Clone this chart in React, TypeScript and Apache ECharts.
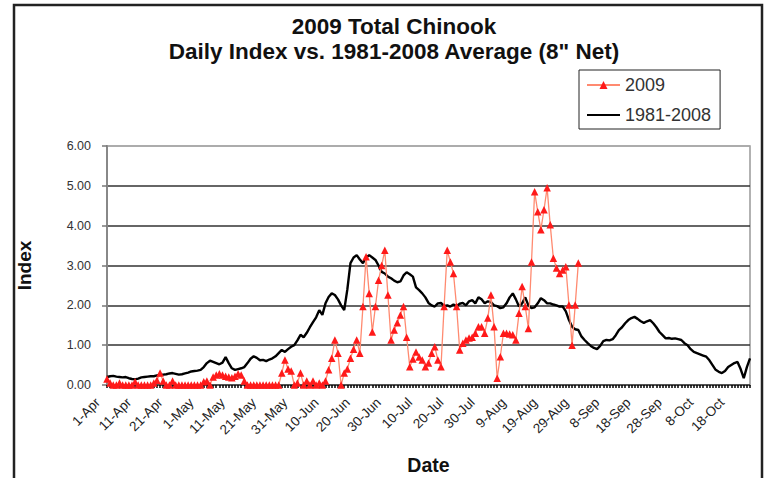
import React, { useEffect, useRef } from "react";
import * as echarts from "echarts";

const MONTHS = ["Apr", "May", "Jun", "Jul", "Aug", "Sep", "Oct"];
const MONTH_DAYS = [30, 31, 30, 31, 31, 30, 31];
const N_DAYS = 207;
const dates: string[] = [];
for (let m = 0; m < MONTHS.length && dates.length < N_DAYS; m++) {
  for (let d = 1; d <= MONTH_DAYS[m] && dates.length < N_DAYS; d++) {
    dates.push(`${d}-${MONTHS[m]}`);
  }
}

const yTicks = ["0.00", "1.00", "2.00", "3.00", "4.00", "5.00", "6.00"];

const avg1981_2008 = [
  0.20, 0.22, 0.23, 0.21, 0.20, 0.19, 0.20, 0.17, 0.15, 0.14,
  0.16, 0.19, 0.20, 0.21, 0.22, 0.22, 0.24, 0.25, 0.26, 0.27,
  0.29, 0.30, 0.28, 0.26, 0.27, 0.29, 0.31, 0.34, 0.35, 0.36,
  0.38, 0.45, 0.55, 0.61, 0.58, 0.55, 0.52, 0.56, 0.70, 0.55,
  0.42, 0.38, 0.40, 0.42, 0.45, 0.55, 0.66, 0.72, 0.68, 0.62,
  0.63, 0.60, 0.64, 0.67, 0.72, 0.80, 0.88, 0.83, 0.90, 0.96,
  1.00, 1.12, 1.26, 1.20, 1.31, 1.45, 1.58, 1.70, 1.88, 1.76,
  2.05, 2.21, 2.30, 2.26, 2.15, 2.00, 1.88, 2.40, 3.06, 3.20,
  3.26, 3.15, 3.06, 3.20, 3.26, 3.20, 3.14, 3.00, 2.84, 2.80,
  2.72, 2.68, 2.62, 2.58, 2.60, 2.75, 2.83, 2.78, 2.72, 2.45,
  2.38, 2.30, 2.20, 2.06, 2.00, 1.97, 2.05, 2.06, 1.98, 2.00,
  1.97, 2.02, 1.98, 2.04, 2.06, 2.00, 2.10, 2.13, 2.05, 2.20,
  2.15, 2.05, 2.10, 2.08, 2.00, 1.98, 1.93, 1.95, 2.05, 2.20,
  2.30, 2.15, 1.97, 2.05, 2.20, 2.00, 1.93, 1.95, 2.05, 2.18,
  2.13, 2.05, 2.05, 2.02, 2.00, 1.97, 1.97, 1.85, 1.63, 1.46,
  1.40, 1.38, 1.22, 1.13, 1.05, 0.98, 0.93, 0.90, 0.98, 1.10,
  1.13, 1.12, 1.15, 1.25, 1.38, 1.45, 1.55, 1.63, 1.68, 1.71,
  1.66, 1.60, 1.56, 1.60, 1.63, 1.55, 1.45, 1.33, 1.25, 1.17,
  1.18, 1.16, 1.17, 1.15, 1.13, 1.05, 1.00, 0.90, 0.83, 0.80,
  0.77, 0.74, 0.71, 0.62, 0.50, 0.38, 0.33, 0.30, 0.35, 0.45,
  0.50, 0.55, 0.58, 0.40, 0.17, 0.45, 0.67,
];

const idx2009 = [
  0.15, 0.05, 0, 0, 0.05, 0, 0, 0, 0, 0.08,
  0, 0, 0, 0, 0, 0.05, 0.12, 0.30, 0.10, 0,
  0, 0.10, 0, 0, 0, 0, 0, 0, 0, 0,
  0, 0.08, 0.10, 0, 0.20, 0.25, 0.28, 0.25, 0.22, 0.20,
  0.18, 0.22, 0.28, 0.25, 0.10, 0, 0, 0, 0, 0,
  0, 0, 0, 0, 0, 0, 0.30, 0.63, 0.40, 0.35,
  0, 0.05, 0.30, 0, 0.10, 0, 0.10, 0, 0.05, 0,
  0.10, 0.38, 0.67, 1.13, 0.80, 0, 0.30, 0.40, 0.67, 0.90,
  1.13, 0.80, 1.97, 3.22, 2.30, 1.33, 1.97, 2.63, 3.00, 3.38,
  2.26, 1.13, 1.38, 1.56, 1.76, 1.97, 1.20, 0.46, 0.65, 0.83,
  0.70, 0.63, 0.46, 0.55, 0.80, 0.96, 0.63, 0.46, 1.97, 3.38,
  3.09, 2.80, 1.97, 0.88, 1.05, 1.13, 1.18, 1.20, 1.30, 1.46,
  1.46, 1.30, 1.68, 2.26, 1.46, 0.17, 0.71, 1.30, 1.30, 1.28,
  1.26, 1.13, 1.80, 2.47, 1.97, 1.42, 3.09, 4.85, 4.35, 3.90,
  4.40, 4.95, 4.02, 3.18, 2.94, 2.80, 2.89, 2.97, 2.01, 1.00,
  2.01, 3.06,
];

const FONT = 'Arial, "Liberation Sans", sans-serif';

export default function App() {
  const ref = useRef<HTMLDivElement>(null);
  useEffect(() => {
    if (!ref.current) return;
    const chart = echarts.init(ref.current, null, { renderer: "svg" });
    chart.setOption({
      animation: false,
      backgroundColor: "#ffffff",
      graphic: [
        {
          type: "rect",
          shape: { x: 14, y: 5, width: 748, height: 520 },
          style: { fill: "none", stroke: "#222", lineWidth: 2.5 },
          z: 100,
        },
        {
          type: "text",
          x: 394,
          y: 26,
          style: {
            text: "2009 Total Chinook",
            fill: "#111",
            font: `bold 22.5px ${FONT}`,
            textAlign: "center",
            textVerticalAlign: "middle",
          },
        },
        {
          type: "text",
          x: 394,
          y: 51,
          style: {
            text: 'Daily Index vs. 1981-2008 Average (8" Net)',
            fill: "#111",
            font: `bold 22.5px ${FONT}`,
            textAlign: "center",
            textVerticalAlign: "middle",
          },
        },
      ],
      legend: {
        orient: "vertical",
        left: 579,
        top: 70,
        padding: [5, 9, 4, 7],
        backgroundColor: "#fff",
        borderColor: "#222",
        borderWidth: 1,
        itemWidth: 33,
        itemHeight: 10,
        itemGap: 10,
        textStyle: { fontSize: 18, color: "#333", fontFamily: FONT, lineHeight: 20 },
        data: [
          { name: "2009" },
          { name: "1981-2008", itemStyle: { color: "transparent", borderWidth: 0, opacity: 0 } },
        ],
      },
      grid: {
        left: 107,
        right: 17,
        top: 146,
        bottom: 93,
        show: true,
        borderColor: "#999",
        borderWidth: 1.5,
      },
      xAxis: {
        type: "category",
        data: dates,
        boundaryGap: false,
        name: "Date",
        nameLocation: "middle",
        nameGap: 70,
        nameTextStyle: { fontSize: 19.5, fontWeight: "bold", color: "#111", fontFamily: FONT },
        axisLine: { lineStyle: { color: "#555", width: 1 } },
        axisTick: { show: true, interval: 0, length: 3, lineStyle: { color: "#000", width: 1.5 } },
        axisLabel: {
          interval: 9,
          rotate: 45,
          margin: 6,
          padding: [0, 13, 0, 0],
          fontSize: 13.5,
          color: "#222",
          fontFamily: FONT,
        },
        splitLine: { show: false },
      },
      yAxis: {
        type: "value",
        min: 0,
        max: 6,
        interval: 1,
        name: "Index",
        nameLocation: "middle",
        nameRotate: 90,
        nameGap: 73,
        nameTextStyle: { fontSize: 19, fontWeight: "bold", color: "#111", fontFamily: FONT },
        axisLine: { show: true, lineStyle: { color: "#888", width: 2 } },
        axisTick: { show: true, inside: false, length: 5, lineStyle: { color: "#777", width: 1.5 } },
        axisLabel: {
          margin: 16,
          fontSize: 12.5,
          color: "#333",
          fontFamily: FONT,
          formatter: (v: number) => yTicks[Math.round(v)] ?? v.toFixed(2),
        },
        splitLine: {
          show: true,
          lineStyle: { color: ["#333", "#333", "#333", "#333", "#333", "#333", "#aaa"], width: 1.5 },
        },
      },
      series: [
        {
          name: "2009",
          type: "line",
          data: idx2009,
          symbol: "triangle",
          symbolSize: 7.5,
          showAllSymbol: true,
          itemStyle: { color: "#ff1a1a" },
          lineStyle: { color: "#ff8a70", width: 1.3 },
          z: 3,
        },
        {
          name: "1981-2008",
          type: "line",
          data: avg1981_2008,
          symbol: "none",
          itemStyle: { color: "#000" },
          lineStyle: { color: "#000", width: 2.4 },
          z: 2,
        },
      ],
    });
    return () => chart.dispose();
  }, []);
  return (
    <div
      ref={ref}
      style={{ position: "absolute", left: 0, top: 0, width: 767, height: 478, background: "#fff" }}
    />
  );
}
